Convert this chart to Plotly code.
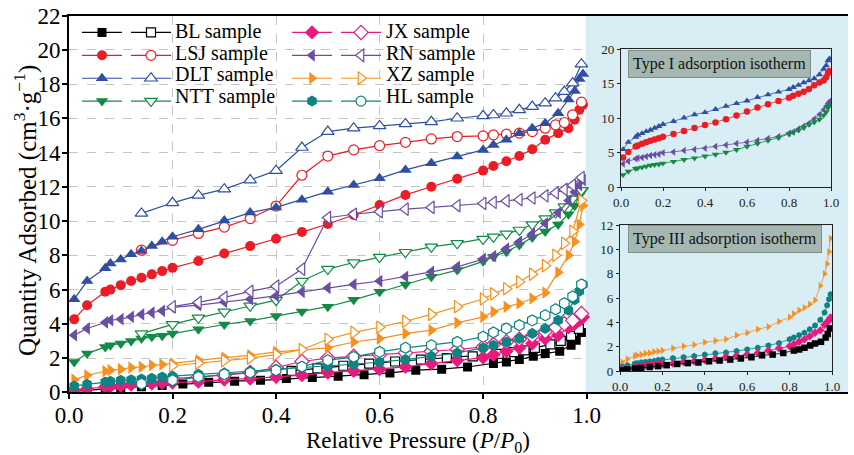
import plotly.graph_objects as go

W, H = 854, 455

# ---------------- data: relative pressure grids ----------------
P_ADS = [0.01, 0.035, 0.07, 0.08, 0.10, 0.12, 0.14, 0.16, 0.18, 0.20,
         0.25, 0.30, 0.35, 0.40, 0.45, 0.50, 0.55, 0.60, 0.65, 0.70,
         0.75, 0.80, 0.82, 0.845, 0.87, 0.895, 0.92, 0.945, 0.965, 0.977,
         0.986, 0.993]
P_DES = [0.14, 0.20, 0.25, 0.30, 0.35, 0.40, 0.45, 0.50, 0.55, 0.60,
         0.65, 0.70, 0.75, 0.80, 0.82, 0.845, 0.87, 0.895, 0.92, 0.94,
         0.957, 0.973, 0.99]
P_BL_ADS = [0.01, 0.035, 0.07, 0.10, 0.14, 0.18, 0.22, 0.27, 0.32, 0.37,
            0.42, 0.47, 0.52, 0.57, 0.62, 0.67, 0.72, 0.77, 0.82, 0.845,
            0.87, 0.897, 0.92, 0.948, 0.97, 0.98, 0.99]
P_BL_DES = [0.43, 0.48, 0.53, 0.58, 0.63, 0.68, 0.73, 0.78, 0.83, 0.86,
            0.88, 0.90, 0.93, 0.95, 0.97, 0.985]

# ---------------- data: quantity adsorbed (cm3/g) ----------------
DLT_ADS = [5.44, 6.5, 7.24, 7.53, 7.76, 8.06, 8.25, 8.54, 8.8, 9.09,
           9.52, 10.03, 10.5, 10.8, 11.25, 11.72, 12.11, 12.5, 12.99, 13.38,
           13.77, 14.16, 14.45, 14.75, 15.14, 15.43, 15.72, 16.3, 17.1, 17.6,
           18.3, 18.6]
DLT_DES = [10.45, 11.07, 11.5, 11.87, 12.4, 12.95, 14.3, 15.23, 15.43, 15.56,
           15.68, 15.8, 16.01, 16.15, 16.2, 16.3, 16.5, 16.69, 16.89, 17.18,
           17.57, 18.06, 19.17]
LSJ_ADS = [4.27, 5.09, 5.87, 6.0, 6.26, 6.5, 6.69, 6.89, 7.08, 7.27,
           7.67, 8.11, 8.54, 8.97, 9.36, 9.83, 10.36, 10.94, 11.53, 12.01,
           12.47, 12.95, 13.22, 13.5, 13.8, 14.2, 14.75, 15.14, 15.43, 15.92,
           16.5, 16.8]
LSJ_DES = [8.3, 8.88, 9.28, 9.65, 10.15, 10.88, 12.68, 13.8, 14.16, 14.41,
           14.6, 14.8, 14.94, 14.98, 15.04, 15.08, 15.14, 15.23, 15.43, 15.62,
           15.76, 16.21, 16.95]
RN_ADS = [3.34, 3.73, 4.08, 4.21, 4.27, 4.41, 4.55, 4.66, 4.76, 4.96,
          5.09, 5.28, 5.44, 5.63, 5.87, 6.1, 6.3, 6.5, 6.75, 7.04,
          7.33, 7.8, 7.96, 8.4, 8.8, 9.25, 9.87, 10.49, 11.2, 11.7,
          12.1, 12.4]
RN_DES = [None, 5.0, 5.25, 5.55, 5.9, 6.2, 7.2, 10.2, 10.4, 10.55,
          10.7, 10.8, 10.9, 11.03, 11.1, 11.18, 11.25, 11.35, 11.48, 11.65,
          11.85, 12.1, 12.55]
NTT_ADS = [1.77, 2.26, 2.65, 2.75, 2.85, 3.0, 3.14, 3.24, 3.3, 3.43,
           3.69, 3.96, 4.17, 4.46, 4.72, 5.0, 5.4, 5.87, 6.3, 6.75,
           7.14, 7.65, 7.92, 8.21, 8.6, 9.05, 9.4, 9.8, 10.4, 10.9,
           11.5, 11.8]
NTT_DES = [3.43, 3.97, 4.35, 4.7, 5.05, 5.38, 6.5, 7.2, 7.58, 7.9,
           8.18, 8.5, 8.7, 8.95, 9.08, 9.26, 9.48, 9.8, 10.15, 10.5,
           10.85, 11.3, 11.8]
XZ_ADS = [0.74, 0.99, 1.23, 1.29, 1.35, 1.44, 1.48, 1.58, 1.62, 1.68,
          1.87, 2.03, 2.16, 2.36, 2.48, 2.6, 2.94, 3.14, 3.43, 3.63,
          4.06, 4.41, 4.7, 4.99, 5.19, 5.48, 5.82, 7.0, 8.0, 8.8,
          9.8, 10.9]
XZ_DES = [None, 1.55, 1.7, 1.85, 2.0, 2.2, 2.5, 3.1, 3.5, 3.8,
          4.15, 4.55, 5.0, 5.45, 5.75, 6.05, 6.45, 6.9, 7.4, 8.0,
          8.7, 9.4, 11.2]
HL_ADS = [0.37, 0.47, 0.6, 0.64, 0.7, 0.74, 0.78, 0.82, 0.9, 0.94,
          1.05, 1.13, 1.23, 1.35, 1.45, 1.52, 1.64, 1.77, 1.91, 2.1,
          2.3, 2.6, 2.75, 2.94, 3.14, 3.43, 3.73, 4.21, 4.8, 5.4,
          5.9, 6.3]
HL_DES = [0.5, 0.7, 0.9, 1.05, 1.15, 1.29, 1.5, 1.87, 2.07, 2.36,
          2.6, 2.75, 2.94, 3.25, 3.5, 3.73, 3.92, 4.2, 4.5, 4.85,
          5.2, 5.6, 6.3]
JX_ADS = [0.12, 0.2, 0.31, 0.35, 0.37, 0.45, 0.51, 0.51, 0.55, 0.57,
          0.62, 0.74, 0.8, 0.9, 1.0, 1.15, 1.25, 1.35, 1.48, 1.68,
          1.87, 2.03, 2.2, 2.4, 2.6, 2.85, 3.14, 3.34, 3.8, 4.0,
          4.2, 4.4]
JX_DES = [None, 0.8, 0.9, 1.0, 1.15, 1.45, 1.8, 2.0, 2.1, 2.2,
          2.3, 2.4, 2.5, 2.65, 2.8, 2.95, 3.1, 3.3, 3.55, 3.8,
          4.0, 4.2, 4.6]
BL_ADS = [0.05, 0.12, 0.2, 0.25, 0.33, 0.4, 0.48, 0.58, 0.65, 0.7,
          0.8, 0.86, 0.94, 1.03, 1.13, 1.29, 1.35, 1.48, 1.68, 1.77,
          1.91, 2.1, 2.26, 2.4, 2.75, 3.04, 3.5]
BL_DES = [1.25, 1.4, 1.55, 1.68, 1.8, 1.91, 2.0, 2.1, 2.25, 2.35,
          2.45, 2.6, 2.8, 3.0, 3.3, 3.7]

LEGEND_COL1 = ["BL", "LSJ", "DLT", "NTT"]
LEGEND_COL2 = ["JX", "RN", "XZ", "HL"]
TYPE_I = ["DLT", "LSJ", "RN", "NTT"]
TYPE_III = ["XZ", "HL", "JX", "BL"]
X_TICKS = [0.0, 0.2, 0.4, 0.6, 0.8, 1.0]

series = {
    "BL": (P_BL_ADS, BL_ADS, P_BL_DES, BL_DES),
    "LSJ": (P_ADS, LSJ_ADS, P_DES, LSJ_DES),
    "DLT": (P_ADS, DLT_ADS, P_DES, DLT_DES),
    "NTT": (P_ADS, NTT_ADS, P_DES, NTT_DES),
    "JX": (P_ADS, JX_ADS, P_DES, JX_DES),
    "RN": (P_ADS, RN_ADS, P_DES, RN_DES),
    "XZ": (P_ADS, XZ_ADS, P_DES, XZ_DES),
    "HL": (P_ADS, HL_ADS, P_DES, HL_DES),
}
colors = {"BL": "#000000", "LSJ": "#ec1c24", "DLT": "#2f4fa2", "NTT": "#138a45",
          "JX": "#e8197f", "RN": "#6a4ea3", "XZ": "#f7901e", "HL": "#0d8383"}
symbols = {"BL": "square", "LSJ": "circle", "DLT": "triangle-up", "NTT": "triangle-down",
           "JX": "diamond", "RN": "triangle-left", "XZ": "triangle-right", "HL": "hexagon"}
# the legend shows a circle for the HL desorption branch
legend_open_symbols = dict(symbols, HL="circle")
sizes = {"BL": 9, "LSJ": 10, "DLT": 11, "NTT": 11, "JX": 11, "RN": 11, "XZ": 11, "HL": 11}

SERIF = "Liberation Serif, Times New Roman, serif"
PANEL = "#d9edf4"

def px(x):
    return x / W

def py(y):
    return 1 - y / H

fig = go.Figure()

# main plot: adsorption (filled) and desorption (open) branches
for name, (pa, qa, pd_, qd) in series.items():
    c = colors[name]
    col1 = name in LEGEND_COL1
    open_legend = "legend2" if col1 else "legend4"
    fig.add_trace(go.Scatter(
        x=pa, y=qa, mode="lines+markers", name="",
        line=dict(color=c, width=1.2),
        marker=dict(symbol=symbols[name], size=sizes[name], color=c, line=dict(width=0)),
        legend="legend" if col1 else "legend3", xaxis="x", yaxis="y"))
    same_symbol = legend_open_symbols[name] == symbols[name]
    fig.add_trace(go.Scatter(
        x=pd_, y=qd, mode="lines+markers", name="", showlegend=same_symbol,
        line=dict(color=c, width=1.2),
        marker=dict(symbol=symbols[name], size=sizes[name], color="white",
                    line=dict(color=c, width=1.2)),
        legend=open_legend, xaxis="x", yaxis="y"))
    if not same_symbol:
        # legend-only entry (no data) carrying the legend's own symbol
        fig.add_trace(go.Scatter(
            x=[None], y=[None], mode="lines+markers", name="",
            line=dict(color=c, width=1.2),
            marker=dict(symbol=legend_open_symbols[name], size=10, color="white",
                        line=dict(color=c, width=1.2)),
            legend=open_legend, xaxis="x", yaxis="y"))

# insets: adsorption branches only
for names, xa, ya in ((TYPE_I, "x2", "y2"), (TYPE_III, "x3", "y3")):
    for name in names:
        pa, qa, _, _ = series[name]
        c = colors[name]
        fig.add_trace(go.Scatter(
            x=pa, y=qa, mode="lines+markers", showlegend=False,
            line=dict(color=c, width=0.8),
            marker=dict(symbol=symbols[name], size=6.5, color=c, line=dict(width=0)),
            xaxis=xa, yaxis=ya))

grid = dict(showgrid=True, gridcolor="#c4c4c4", griddash="dash", gridwidth=1)
axis_common = dict(showline=True, linecolor="black", linewidth=2, ticks="outside",
                   ticklen=5, tickwidth=1.5, tickcolor="black", zeroline=False,
                   automargin=False,
                   tickfont=dict(family=SERIF, size=23, color="black"))
inset_common = dict(showline=True, linecolor="#222", linewidth=1.3, mirror=True,
                    ticks="outside", ticklen=3, tickwidth=1, tickcolor="#222",
                    zeroline=False, showgrid=False, automargin=False,
                    tickfont=dict(family=SERIF, size=13, color="#222"))

legend_base = dict(bgcolor="rgba(0,0,0,0)", borderwidth=0, itemwidth=40,
                   font=dict(family=SERIF, size=15.3, color="black"),
                   xanchor="left", yanchor="top", tracegroupgap=0,
                   itemclick=False, itemdoubleclick=False)

fig.update_layout(
    width=W, height=H, margin=dict(l=0, r=0, t=0, b=0, autoexpand=False),
    paper_bgcolor="white", plot_bgcolor="rgba(0,0,0,0)",
    font=dict(family=SERIF, color="black"),
    xaxis=dict(domain=[px(69), px(848)], range=[0, 1.505], tickvals=X_TICKS,
               ticktext=[f"{v:.1f}" for v in X_TICKS], mirror=True,
               ticklabelstandoff=-4, **grid, **axis_common),
    yaxis=dict(domain=[py(392.3), py(15.7)], range=[0, 22], dtick=2,
               ticklabelstandoff=-3, **grid, **axis_common),
    xaxis2=dict(domain=[px(621), px(831)], range=[0, 1], dtick=0.2, tickformat=".1f",
                anchor="y2", **inset_common),
    yaxis2=dict(domain=[py(187), py(49)], range=[0, 20], dtick=5, anchor="x2", **inset_common),
    xaxis3=dict(domain=[px(620), px(832)], range=[0, 1], dtick=0.2, tickformat=".1f",
                anchor="y3", **inset_common),
    yaxis3=dict(domain=[py(371), py(225)], range=[0, 12], dtick=2, anchor="x3", **inset_common),
    legend=dict(x=px(77), y=py(16), **legend_base),
    legend2=dict(x=px(126), y=py(16), **legend_base),
    legend3=dict(x=px(287), y=py(16), **legend_base),
    legend4=dict(x=px(336), y=py(16), **legend_base),
    showlegend=True,
)

# light-blue panel holding the two insets (drawn over gridlines, under traces)
fig.add_shape(type="rect", xref="x", yref="y", x0=0.998, x1=1.6, y0=0, y1=22,
              fillcolor=PANEL, line=dict(width=0), layer="between")

annotations = []
rows = [32, 53.5, 75, 96.5]
for i, name in enumerate(LEGEND_COL1):
    annotations.append(dict(x=px(173), y=py(rows[i]), text=f"{name} sample"))
for i, name in enumerate(LEGEND_COL2):
    annotations.append(dict(x=px(384), y=py(rows[i]), text=f"{name} sample"))
for a in annotations:
    a.update(xref="paper", yref="paper", xanchor="left", yanchor="middle",
             showarrow=False, font=dict(family=SERIF, size=20, color="black"))

annotations.append(dict(x=px(418), y=py(442), xref="paper", yref="paper",
                        xanchor="center", yanchor="middle",
                        text="Relative Pressure (<i>P</i>/<i>P</i><sub>0</sub>)",
                        showarrow=False, font=dict(family=SERIF, size=23, color="black")))
annotations.append(dict(x=px(25), y=py(211), xref="paper", yref="paper", textangle=-90,
                        xanchor="center", yanchor="middle",
                        text="Quantity Adsorbed (cm<sup>3</sup>·g<sup>−1</sup>)",
                        showarrow=False, font=dict(family=SERIF, size=25, color="black")))
for label, cx, cy in (("Type I adsorption isotherm", 719, 64.5),
                      ("Type III adsorption isotherm", 725, 238.5)):
    annotations.append(dict(x=px(cx), y=py(cy), xref="paper", yref="paper", text=label,
                            xanchor="center", yanchor="middle",
                            showarrow=False, bgcolor="#a6b7b2", bordercolor="#7d8f8a",
                            borderwidth=1, borderpad=4,
                            font=dict(family=SERIF, size=16, color="#111")))
fig.update_layout(annotations=annotations)

fig.write_html("out.html")
